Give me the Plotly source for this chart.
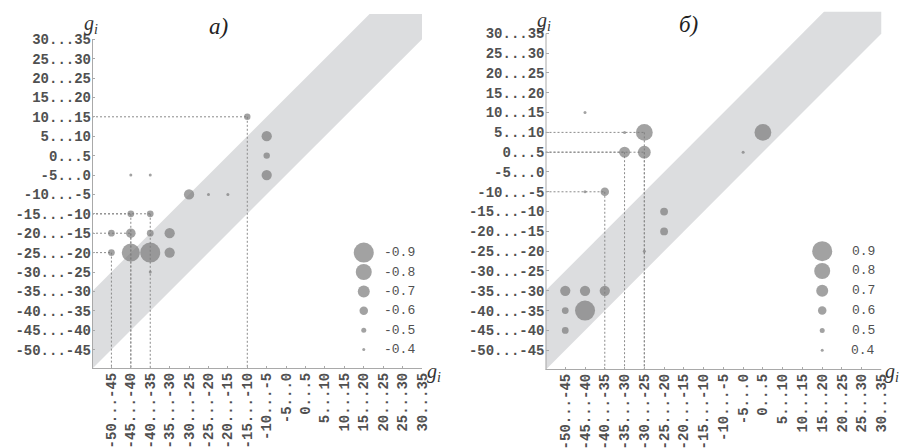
import numpy as np
import plotly.graph_objects as go

# ---------------- data ----------------
CATS = ["-50...-45", "-45...-40", "-40...-35", "-35...-30", "-30...-25", "-25...-20",
        "-20...-15", "-15...-10", "-10...-5", "-5...0", "0...5", "5...10",
        "10...15", "15...20", "20...25", "25...30", "30...35"]

# panel a)  (x category, y category, correlation)
A_X = ["-15...-10", "-10...-5", "-10...-5", "-10...-5", "-45...-40", "-40...-35",
       "-30...-25", "-25...-20", "-20...-15", "-45...-40", "-40...-35",
       "-50...-45", "-45...-40", "-40...-35", "-35...-30",
       "-50...-45", "-45...-40", "-40...-35", "-35...-30", "-40...-35"]
A_Y = ["10...15", "5...10", "0...5", "-5...0", "-5...0", "-5...0",
       "-10...-5", "-10...-5", "-10...-5", "-15...-10", "-15...-10",
       "-20...-15", "-20...-15", "-20...-15", "-20...-15",
       "-25...-20", "-25...-20", "-25...-20", "-25...-20", "-30...-25"]
A_R = [-0.54, -0.65, -0.54, -0.65, -0.4, -0.4,
       -0.65, -0.4, -0.4, -0.55, -0.55,
       -0.55, -0.63, -0.55, -0.65,
       -0.55, -0.85, -0.9, -0.65, -0.4]
# points projected onto the axes with dotted lines
A_DROP_X = ["-15...-10", "-40...-35", "-45...-40", "-45...-40", "-50...-45"]
A_DROP_Y = ["10...15", "-15...-10", "-15...-10", "-20...-15", "-25...-20"]

# panel б)
B_X = ["-45...-40", "-35...-30", "-30...-25", "0...5", "-35...-30", "-30...-25",
       "-5...0", "-45...-40", "-40...-35", "-25...-20", "-25...-20", "-30...-25",
       "-50...-45", "-45...-40", "-40...-35", "-50...-45", "-45...-40", "-50...-45"]
B_Y = ["10...15", "5...10", "5...10", "5...10", "0...5", "0...5",
       "0...5", "-10...-5", "-10...-5", "-15...-10", "-20...-15", "-25...-20",
       "-35...-30", "-35...-30", "-35...-30", "-40...-35", "-40...-35", "-45...-40"]
B_R = [0.4, 0.4, 0.82, 0.82, 0.67, 0.72,
       0.4, 0.4, 0.6, 0.58, 0.58, 0.4,
       0.65, 0.65, 0.65, 0.55, 0.92, 0.55]
B_DROP_X = ["-30...-25", "-30...-25", "-35...-30", "-40...-35"]
B_DROP_Y = ["5...10", "0...5", "0...5", "-10...-5"]

LEGEND_A = [-0.9, -0.8, -0.7, -0.6, -0.5, -0.4]
LEGEND_B = [0.9, 0.8, 0.7, 0.6, 0.5, 0.4]

BAND_WIDTH = 4  # classes above the diagonal

# ---------------- styling ----------------
W, H = 902, 448
DOT = "#7b7b7b"
BAND = "#dcdddf"
AXC = "#a9a9a9"
TXT = "#505050"
MONO = "Liberation Mono"
SERIF = "Liberation Serif"


def idx(lst):
    return [CATS.index(c) for c in lst]


def msize(r):
    return np.interp(np.abs(r), [0.4, 0.5, 0.6, 0.7, 0.8, 0.9],
                     [3, 5, 8.5, 12, 16, 20])


panels = [
    dict(xd=[92 / W, 422 / W], yd=[1 - 369 / H, 1 - 14 / H], ytop=17.3,
         X=A_X, Y=A_Y, R=A_R, DX=A_DROP_X, DY=A_DROP_Y, LEG=LEGEND_A,
         title="а)", tpos=(218, 26), ylab=(91, 25), xlab=(434, 372)),
    dict(xd=[545.5 / W, 881.5 / W], yd=[1 - 370 / H, 1 - 11.6 / H], ytop=17.1,
         X=B_X, Y=B_Y, R=B_R, DX=B_DROP_X, DY=B_DROP_Y, LEG=LEGEND_B,
         title="б)", tpos=(688, 24), ylab=(544, 21), xlab=(892, 372)),
]

fig = go.Figure()
annotations = []
shapes = []
n = len(CATS) - 1
for i, p in enumerate(panels):
    sfx = "" if i == 0 else str(i + 1)
    xa, ya = "x" + sfx, "y" + sfx
    ytop = p["ytop"]
    # diagonal band (y between x and x+BAND_WIDTH), clipped to the plot
    bx = [-1, n, n, ytop - BAND_WIDTH, -1]
    by = [-1, n, ytop, ytop, -1 + BAND_WIDTH]
    fig.add_trace(go.Scatter(x=bx, y=by, fill="toself", fillcolor=BAND,
                             line=dict(width=0), mode="lines", hoverinfo="skip",
                             showlegend=False, xaxis=xa, yaxis=ya))
    # dotted projection lines
    lx, ly = [], []
    for cx, cy in zip(idx(p["DX"]), idx(p["DY"])):
        lx += [-1, cx, None, cx, cx, None]
        ly += [cy, cy, None, cy, -1, None]
    fig.add_trace(go.Scatter(x=lx, y=ly, mode="lines",
                             line=dict(color="#8a8a8a", width=1, dash="2px,2px"),
                             hoverinfo="skip", showlegend=False, xaxis=xa, yaxis=ya))
    # bubbles
    fig.add_trace(go.Scatter(x=idx(p["X"]), y=idx(p["Y"]), mode="markers",
                             marker=dict(size=msize(p["R"]), color=DOT,
                                         line=dict(width=0)),
                             text=[str(r) for r in p["R"]],
                             showlegend=False, xaxis=xa, yaxis=ya))
    # size legend
    leg_y = list(range(len(p["LEG"]) - 1, -1, -1))
    fig.add_trace(go.Scatter(x=[13] * len(p["LEG"]), y=leg_y, mode="markers",
                             marker=dict(size=msize(p["LEG"]), color=DOT,
                                         line=dict(width=0)),
                             hoverinfo="skip", showlegend=False, xaxis=xa, yaxis=ya))
    for v, yy in zip(p["LEG"], leg_y):
        annotations.append(dict(x=15.75, y=yy, xref=xa, yref=ya, text=f"{v:.1f}",
                                showarrow=False, xanchor="right", yanchor="middle",
                                font=dict(family=MONO, size=13, color=TXT)))
    # axis lines
    shapes.append(dict(type="line", x0=-1, x1=-1, y0=-1, y1=n, xref=xa, yref=ya,
                       line=dict(color=AXC, width=2), layer="above"))
    shapes.append(dict(type="line", x0=-1, x1=n, y0=-1, y1=-1, xref=xa, yref=ya,
                       line=dict(color=AXC, width=2), layer="above"))
    # title and axis labels
    annotations.append(dict(x=p["tpos"][0] / W, y=1 - p["tpos"][1] / H, xref="paper",
                            yref="paper", text=f"<i>{p['title']}</i>", showarrow=False,
                            xanchor="center", yanchor="middle",
                            font=dict(family=SERIF, size=23, color="#222222")))
    for lab in ("ylab", "xlab"):
        annotations.append(dict(x=p[lab][0] / W, y=1 - p[lab][1] / H, xref="paper",
                                yref="paper", text="<i>g<sub>i</sub></i>",
                                showarrow=False, xanchor="center", yanchor="middle",
                                font=dict(family=SERIF, size=20, color="#333333")))

    axcommon = dict(showgrid=False, zeroline=False, showline=False, automargin=False,
                    tickmode="array", tickvals=list(range(len(CATS))), ticktext=CATS,
                    ticks="inside", ticklen=3, tickcolor=AXC, tickwidth=1,
                    tickfont=dict(family=MONO, size=14, color=TXT, weight="bold"))
    fig.update_layout(**{
        "xaxis" + sfx: dict(domain=p["xd"], range=[-1, n], anchor=ya,
                            tickangle=-90, **axcommon),
        "yaxis" + sfx: dict(domain=p["yd"], range=[-1, ytop], anchor=xa,
                            **axcommon),
    })

fig.update_layout(template="none", width=W, height=H,
                  margin=dict(l=0, r=0, t=0, b=0, autoexpand=False),
                  paper_bgcolor="white", plot_bgcolor="white",
                  annotations=annotations, shapes=shapes, showlegend=False)
fig.write_html("out.html", config={"displayModeBar": False},
               post_script="document.body.style.margin='0';"
                           "document.body.style.overflow='hidden';")
